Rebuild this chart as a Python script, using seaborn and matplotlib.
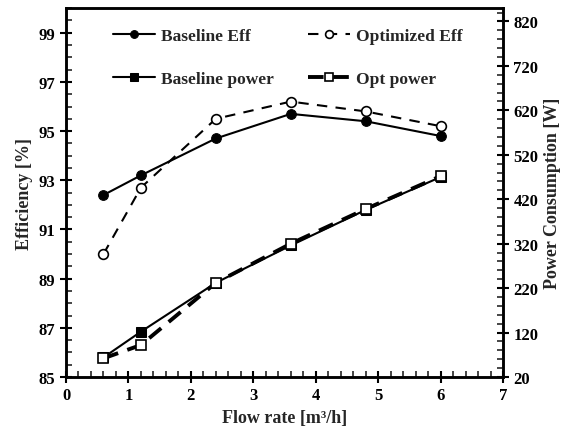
import numpy as np
import pandas as pd
import matplotlib
matplotlib.use("Agg")
import matplotlib.pyplot as plt
import seaborn as sns
from matplotlib.ticker import MultipleLocator

# Measured data
flow_rate = [0.6, 1.2, 2.4, 3.6, 4.8, 6.0]
baseline_eff = [92.4, 93.2, 94.7, 95.7, 95.4, 94.8]
optimized_eff = [90.0, 92.7, 95.5, 96.2, 95.8, 95.2]
baseline_power = [64, 122, 232, 316, 396, 470]
opt_power = [62, 92, 232, 320, 398, 472]

sns.set_theme(style="white")
plt.rcParams["font.family"] = ["Liberation Serif", "DejaVu Serif"]
plt.rcParams["font.weight"] = "bold"
plt.rcParams["axes.labelweight"] = "bold"

eff_df = pd.DataFrame({"flow": flow_rate, "base": baseline_eff, "opt": optimized_eff})
pow_df = pd.DataFrame({"flow": flow_rate, "base": baseline_power, "opt": opt_power})

fig = plt.figure(figsize=(5.71, 4.35), dpi=100)
ax = fig.add_axes([0.1156, 0.131, 0.7654, 0.848])
ax2 = ax.twinx()

sns.lineplot(data=eff_df, x="flow", y="base", ax=ax, color="black", lw=1.5,
             marker="o", markersize=7, markerfacecolor="black",
             markeredgecolor="black", label="Baseline Eff", legend=False)
sns.lineplot(data=eff_df, x="flow", y="opt", ax=ax, color="black", lw=1.5,
             linestyle=(0, (5, 4)), marker="o", markersize=7,
             markerfacecolor="white", markeredgecolor="black",
             markeredgewidth=1.2, label="Optimized Eff", legend=False)
sns.lineplot(data=pow_df, x="flow", y="base", ax=ax2, color="black", lw=1.5,
             marker="s", markersize=7, markerfacecolor="black",
             markeredgecolor="black", label="Baseline power", legend=False)
sns.lineplot(data=pow_df, x="flow", y="opt", ax=ax2, color="black", lw=2.8,
             linestyle=(0, (4, 2.5)), marker="s", markersize=7,
             markerfacecolor="white", markeredgecolor="black",
             markeredgewidth=1.2, label="Opt power", legend=False)

ax.set_xlim(0, 7)
ax.set_ylim(85, 100)
ax2.set_ylim(20, 850)

ax.xaxis.set_major_locator(MultipleLocator(1))
ax.xaxis.set_minor_locator(MultipleLocator(0.2))
ax.set_yticks([85, 87, 89, 91, 93, 95, 97, 99])
ax.yaxis.set_minor_locator(MultipleLocator(0.5))
ax2.set_yticks([20, 120, 220, 320, 420, 520, 620, 720, 820])
ax2.yaxis.set_minor_locator(MultipleLocator(20))

for a in (ax, ax2):
    a.tick_params(which="major", direction="inout", length=8, width=1.5,
                  labelsize=12, colors="black")
    a.tick_params(which="minor", direction="in", length=4, width=1.2)
    for sp in a.spines.values():
        sp.set_linewidth(1.8)
        sp.set_color("black")
ax.tick_params(axis="both", which="both", bottom=True, left=True)
ax.tick_params(axis="y", which="both", right=False)
ax2.tick_params(axis="y", which="both", right=True, left=False)
for lbl in ax.get_xticklabels() + ax.get_yticklabels() + ax2.get_yticklabels():
    lbl.set_fontweight("bold")

ax.set_xlabel("Flow rate [m³/h]", fontsize=13, fontweight="bold")
ax.set_ylabel("Efficiency [%]", fontsize=13, fontweight="bold")
ax2.set_ylabel("Power Consumption [W]", fontsize=13, fontweight="bold")

h1, l1 = ax.get_legend_handles_labels()
h2, l2 = ax2.get_legend_handles_labels()
handles = [h1[0], h2[0], h1[1], h2[1]]
labels = [l1[0], l2[0], l1[1], l2[1]]
leg = ax2.legend(handles, labels, ncol=2, loc="upper left",
                 bbox_to_anchor=(0.072, 0.99), frameon=False,
                 prop={"weight": "bold", "size": 12.5}, handlelength=2.4,
                 columnspacing=2.0, labelspacing=1.55, handletextpad=0.35,
                 markerscale=0.8)

fig.savefig("out.png", dpi=100)
